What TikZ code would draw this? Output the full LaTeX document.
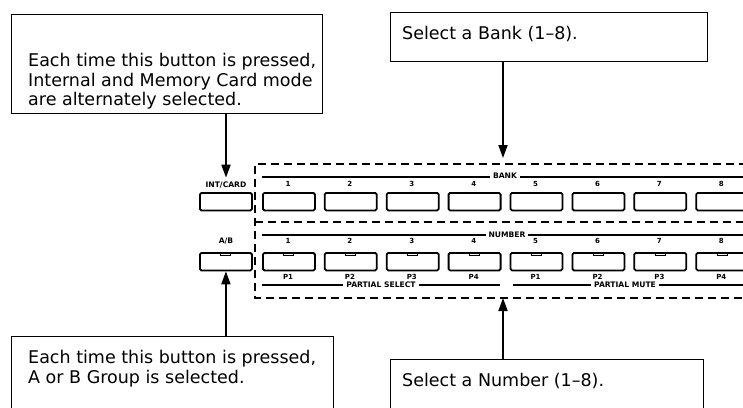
\documentclass[tikz,border=0pt]{standalone}
\usepackage{fontspec}
\setmainfont{DejaVu Sans}
\usetikzlibrary{arrows.meta}
\tikzset{
  callout/.style={draw, line width=1.1pt, inner sep=0pt, anchor=north west},
  calltext/.style={anchor=base west, inner sep=0pt, font=\fontsize{17.5}{20}\selectfont},
  btn/.style={draw, line width=1.8pt, rounded corners=1.5pt, minimum width=52pt, minimum height=17.5pt, inner sep=0pt, anchor=north west},
  ledtab/.style={draw, line width=0.9pt, minimum width=10pt, minimum height=3pt, inner sep=0pt, anchor=north},
  lbl/.style={font=\bfseries\fontsize{7.6}{8}\selectfont, inner sep=1pt},
  digit/.style={font=\bfseries\fontsize{7}{8}\selectfont, inner sep=1pt},
  gaplbl/.style={lbl, fill=white, inner xsep=3pt, inner ysep=1pt},
  panelline/.style={line width=1.4pt, dash pattern=on 8pt off 5pt},
  rule/.style={line width=1.2pt},
  arr/.style={line width=1.8pt, -{Triangle[length=13pt,width=9pt]}}
}
\begin{document}
\begin{tikzpicture}[x=1pt,y=-1pt]
\useasboundingbox (0,0) rectangle (743,407);
\clip (0,0) rectangle (743,407);
\fill[white] (0,0) rectangle (743,407);

% callout boxes
\node[callout, minimum width=311pt, minimum height=99pt] (tl) at (11,14) {};
\node[callout, minimum width=317pt, minimum height=49pt] (tr) at (390,12) {};
\node[callout, minimum width=322pt, minimum height=100pt] (bl) at (11,336) {};
\node[callout, minimum width=313pt, minimum height=80pt] (br) at (390,359) {};

\node[calltext] (tl1) at (28,66) {Each time this button is pressed,};
\node[calltext] (tl2) at (28,86) {Internal and Memory Card mode};
\node[calltext] (tl3) at (28,105) {are alternately selected.};
\node[calltext] (tr1) at (402,39) {Select a Bank (1–8).};
\node[calltext] (bl1) at (28,363) {Each time this button is pressed,};
\node[calltext] (bl2) at (28,383) {A or B Group is selected.};
\node[calltext] (br1) at (402,386) {Select a Number (1–8).};

% panel frame
\draw[panelline] (760,164) -- (255,164) -- (255,298) -- (760,298);
\draw[panelline] (255,222) -- (760,222);
\coordinate (paneltop) at (503,164);
\coordinate (panelbot) at (503,298);

% left buttons
\node[lbl] (intlbl) at (226,185) {INT/CARD};
\node[btn] (intcard) at (199,192) {};
\node[lbl] (ablbl) at (226,241) {A/B};
\node[btn] (ab) at (199,252) {};
\node[ledtab] (abtab) at (ab.north) {};

% rules with labels
\draw[rule] (262,177) -- (760,177);
\node[gaplbl] (banklbl) at (505,176) {BANK};
\draw[rule] (262,235) -- (760,235);
\node[gaplbl] (numlbl) at (507,235) {NUMBER};
\draw[rule] (262,285) -- (500,285);
\node[gaplbl] (pslbl) at (381,285) {PARTIAL SELECT};
\draw[rule] (513,285) -- (760,285);
\node[gaplbl] (pmlbl) at (625,285) {PARTIAL MUTE};

% bank and number buttons
\foreach \i/\p in {1/1,2/2,3/3,4/4,5/1,6/2,7/3,8/4} {
  \pgfmathsetmacro\xx{262+61.9*(\i-1)}
  \pgfmathsetmacro\xc{\xx+26}
  \node[btn] (b\i) at (\xx,192) {};
  \node[digit] (bd\i) at (\xc,184) {\i};
  \node[btn] (n\i) at (\xx,252) {};
  \node[ledtab] (nt\i) at (n\i.north) {};
  \node[digit] (nd\i) at (\xc,241) {\i};
  \node[digit] (pl\i) at (\xc,277) {P\p};
}

% arrows
\draw[arr, shorten >=3pt] (tl.south -| intlbl.north) -- (intlbl.north);
\draw[arr, shorten >=6pt] (tr.south -| paneltop) -- (paneltop);
\draw[arr] (bl.north -| ab.south) -- (ab.south);
\draw[arr] (br.north -| panelbot) -- (panelbot);
\end{tikzpicture}
\end{document}
